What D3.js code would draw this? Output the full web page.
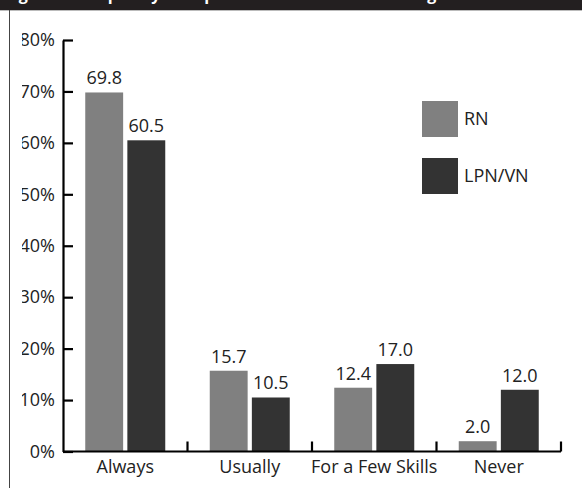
<!DOCTYPE html>
<html>
<head>
<meta charset="utf-8">
<script src="https://cdn.jsdelivr.net/npm/d3@7"></script>
<style>
  html, body { margin: 0; padding: 0; background: #fff; }
  svg { display: block; font-family: "Open Sans", sans-serif; }
</style>
</head>
<body>
<svg id="chart" width="582" height="488"></svg>
<script>
// Share of nurses by how often skills are supervised, by licence type
const categories = ["Always", "Usually", "For a Few Skills", "Never"];
const seriesNames = ["RN", "LPN/VN"];
const rnValues = [69.8, 15.7, 12.4, 2.0];
const lpnValues = [60.5, 10.5, 17.0, 12.0];
const yTicks = [0, 10, 20, 30, 40, 50, 60, 70, 80];
const titleText = "Figure 6. Frequency of Supervised Practice for Nursing Skills";

const colors = { "RN": "#808080", "LPN/VN": "#333333" };

const rows = categories.map((c, i) => ({
  category: c,
  values: [
    { series: "RN", value: rnValues[i] },
    { series: "LPN/VN", value: lpnValues[i] }
  ]
}));

const svg = d3.select("#chart");
const W = 582, H = 488;

// Frame: dark title band and left rule
svg.append("rect").attr("x", 0).attr("y", 0).attr("width", W).attr("height", 10)
  .attr("fill", "#231f20");
svg.append("line").attr("x1", 0).attr("x2", W).attr("y1", 10.5).attr("y2", 10.5)
  .attr("stroke", "#bbb").attr("stroke-width", 1);
svg.append("line").attr("x1", 9.5).attr("x2", 9.5).attr("y1", 10).attr("y2", H)
  .attr("stroke", "#444").attr("stroke-width", 1);

const defs = svg.append("defs");
defs.append("clipPath").attr("id", "titleClip")
  .append("rect").attr("x", 0).attr("y", 0).attr("width", W).attr("height", 10);

// Title sits mostly above the top edge; only its lower part shows in the band
svg.append("g").attr("clip-path", "url(#titleClip)")
  .append("text")
  .attr("x", 5).attr("y", 0)
  .attr("fill", "#fff")
  .attr("font-size", 16)
  .attr("font-weight", "bold")
  .text(titleText);

// Scales
const x0 = d3.scaleBand().domain(categories).range([63, 561]).padding(0);
const groupW = 80;
const x1 = d3.scaleBand().domain(seriesNames)
  .range([(x0.bandwidth() - groupW) / 2, (x0.bandwidth() + groupW) / 2])
  .paddingInner(0.1);
const y = d3.scaleLinear().domain([0, 80]).range([451.5, 40]);

// Bars
const groups = svg.append("g").selectAll("g").data(rows).join("g")
  .attr("transform", d => `translate(${x0(d.category)},0)`);

groups.selectAll("rect").data(d => d.values).join("rect")
  .attr("x", d => x1(d.series))
  .attr("y", d => y(d.value))
  .attr("width", x1.bandwidth())
  .attr("height", d => y(0) - y(d.value))
  .attr("fill", d => colors[d.series]);

groups.selectAll("text").data(d => d.values).join("text")
  .attr("x", d => x1(d.series) + x1.bandwidth() / 2)
  .attr("y", d => y(d.value) - 8)
  .attr("text-anchor", "middle")
  .attr("font-size", 18)
  .attr("fill", "#222")
  .text(d => d.value.toFixed(1));

// Y axis: ticks point inward; labels trimmed at the left margin
defs.append("clipPath").attr("id", "yAxisClip")
  .append("rect").attr("x", 22 - 63).attr("y", 10).attr("width", W).attr("height", H);
const yAxis = d3.axisLeft(y).tickValues(yTicks).tickFormat(d => d + "%")
  .tickSize(-10).tickSizeOuter(0).tickPadding(8);
const gy = svg.append("g").attr("transform", "translate(63,0)")
  .attr("clip-path", "url(#yAxisClip)")
  .call(yAxis);
gy.select(".domain").attr("stroke", "#000").attr("stroke-width", 2.2);
gy.selectAll(".tick line").attr("stroke", "#000").attr("stroke-width", 2.2);
gy.selectAll(".tick text")
  .attr("font-size", 18).attr("fill", "#222")
  .attr("font-family", "Open Sans, sans-serif");

// X axis: ticks at category boundaries, pointing up
const bounds = categories.map(c => x0(c) + x0.step());
const gx = svg.append("g");
gx.append("line")
  .attr("x1", x0.range()[0]).attr("x2", x0.range()[1])
  .attr("y1", y(0)).attr("y2", y(0))
  .attr("stroke", "#000").attr("stroke-width", 2.2);
gx.selectAll("line.tick").data(bounds).join("line").attr("class", "tick")
  .attr("x1", d => d).attr("x2", d => d)
  .attr("y1", y(0)).attr("y2", y(0) - 10)
  .attr("stroke", "#000").attr("stroke-width", 2.2);
gx.selectAll("text").data(categories).join("text")
  .attr("x", d => x0(d) + x0.bandwidth() / 2)
  .attr("y", 472.5)
  .attr("text-anchor", "middle")
  .attr("font-size", 18)
  .attr("fill", "#222")
  .text(d => d);

// Legend
const legend = svg.append("g").attr("transform", "translate(422,101)");
const li = legend.selectAll("g").data(seriesNames).join("g")
  .attr("transform", (d, i) => `translate(0,${i * 57})`);
li.append("rect").attr("width", 36).attr("height", 36).attr("fill", d => colors[d]);
li.append("text").attr("x", 42).attr("y", 18).attr("dy", "0.35em")
  .attr("font-size", 18).attr("fill", "#222").text(d => d);
</script>
</body>
</html>
